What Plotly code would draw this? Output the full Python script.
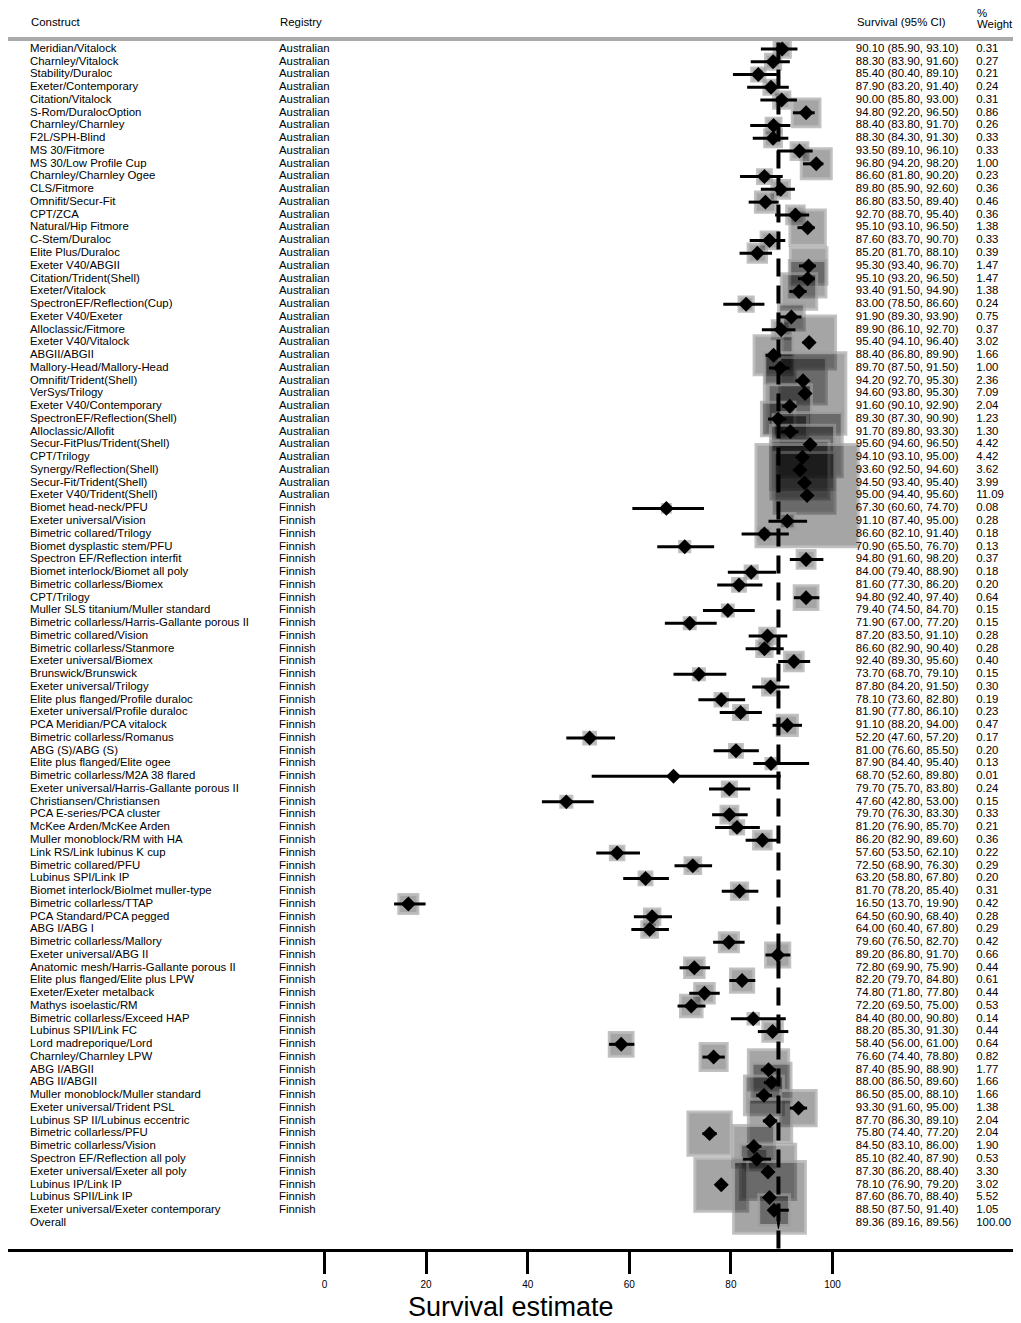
import numpy as np
import plotly.graph_objects as go

constructs = [
    "Meridian/Vitalock", "Charnley/Vitalock", "Stability/Duraloc", "Exeter/Contemporary",
    "Citation/Vitalock", "S-Rom/DuralocOption", "Charnley/Charnley", "F2L/SPH-Blind",
    "MS 30/Fitmore", "MS 30/Low Profile Cup", "Charnley/Charnley Ogee", "CLS/Fitmore",
    "Omnifit/Secur-Fit", "CPT/ZCA", "Natural/Hip Fitmore", "C-Stem/Duraloc",
    "Elite Plus/Duraloc", "Exeter V40/ABGII", "Citation/Trident(Shell)", "Exeter/Vitalock",
    "SpectronEF/Reflection(Cup)", "Exeter V40/Exeter", "Alloclassic/Fitmore", "Exeter V40/Vitalock",
    "ABGII/ABGII", "Mallory-Head/Mallory-Head", "Omnifit/Trident(Shell)", "VerSys/Trilogy",
    "Exeter V40/Contemporary", "SpectronEF/Reflection(Shell)", "Alloclassic/Allofit",
    "Secur-FitPlus/Trident(Shell)", "CPT/Trilogy", "Synergy/Reflection(Shell)",
    "Secur-Fit/Trident(Shell)", "Exeter V40/Trident(Shell)",
    "Biomet head-neck/PFU", "Exeter universal/Vision", "Bimetric collared/Trilogy",
    "Biomet dysplastic stem/PFU", "Spectron EF/Reflection interfit", "Biomet interlock/Biomet all poly",
    "Bimetric collarless/Biomex", "CPT/Trilogy", "Muller SLS titanium/Muller standard",
    "Bimetric collarless/Harris-Gallante porous II", "Bimetric collared/Vision",
    "Bimetric collarless/Stanmore", "Exeter universal/Biomex", "Brunswick/Brunswick",
    "Exeter universal/Trilogy", "Elite plus flanged/Profile duraloc", "Exeter universal/Profile duraloc",
    "PCA Meridian/PCA vitalock", "Bimetric collarless/Romanus", "ABG (S)/ABG (S)",
    "Elite plus flanged/Elite ogee", "Bimetric collarless/M2A 38 flared",
    "Exeter universal/Harris-Gallante porous II", "Christiansen/Christiansen",
    "PCA E-series/PCA cluster", "McKee Arden/McKee Arden", "Muller monoblock/RM with HA",
    "Link RS/Link lubinus K cup", "Bimetric collared/PFU", "Lubinus SPI/Link IP",
    "Biomet interlock/Biolmet muller-type", "Bimetric collarless/TTAP", "PCA Standard/PCA pegged",
    "ABG I/ABG I", "Bimetric collarless/Mallory", "Exeter universal/ABG II",
    "Anatomic mesh/Harris-Gallante porous II", "Elite plus flanged/Elite plus LPW",
    "Exeter/Exeter metalback", "Mathys isoelastic/RM", "Bimetric collarless/Exceed HAP",
    "Lubinus SPII/Link FC", "Lord madreporique/Lord", "Charnley/Charnley LPW", "ABG I/ABGII",
    "ABG II/ABGII", "Muller monoblock/Muller standard", "Exeter universal/Trident PSL",
    "Lubinus SP II/Lubinus eccentric", "Bimetric collarless/PFU", "Bimetric collarless/Vision",
    "Spectron EF/Reflection all poly", "Exeter universal/Exeter all poly", "Lubinus IP/Link IP",
    "Lubinus SPII/Link IP", "Exeter universal/Exeter contemporary",
]
registries = ["Australian"] * 36 + ["Finnish"] * 56

survival = [
    90.10, 88.30, 85.40, 87.90, 90.00, 94.80, 88.40, 88.30, 93.50, 96.80, 86.60, 89.80,
    86.80, 92.70, 95.10, 87.60, 85.20, 95.30, 95.10, 93.40, 83.00, 91.90, 89.90, 95.40,
    88.40, 89.70, 94.20, 94.60, 91.60, 89.30, 91.70, 95.60, 94.10, 93.60, 94.50, 95.00,
    67.30, 91.10, 86.60, 70.90, 94.80, 84.00, 81.60, 94.80, 79.40, 71.90, 87.20, 86.60,
    92.40, 73.70, 87.80, 78.10, 81.90, 91.10, 52.20, 81.00, 87.90, 68.70, 79.70, 47.60,
    79.70, 81.20, 86.20, 57.60, 72.50, 63.20, 81.70, 16.50, 64.50, 64.00, 79.60, 89.20,
    72.80, 82.20, 74.80, 72.20, 84.40, 88.20, 58.40, 76.60, 87.40, 88.00, 86.50, 93.30,
    87.70, 75.80, 84.50, 85.10, 87.30, 78.10, 87.60, 88.50,
]
lower = [
    85.90, 83.90, 80.40, 83.20, 85.80, 92.20, 83.80, 84.30, 89.10, 94.20, 81.80, 85.90,
    83.50, 88.70, 93.10, 83.70, 81.70, 93.40, 93.20, 91.50, 78.50, 89.30, 86.10, 94.10,
    86.80, 87.50, 92.70, 93.80, 90.10, 87.30, 89.80, 94.60, 93.10, 92.50, 93.40, 94.40,
    60.60, 87.40, 82.10, 65.50, 91.60, 79.40, 77.30, 92.40, 74.50, 67.00, 83.50, 82.90,
    89.30, 68.70, 84.20, 73.60, 77.80, 88.20, 47.60, 76.60, 84.40, 52.60, 75.70, 42.80,
    76.30, 76.90, 82.90, 53.50, 68.90, 58.80, 78.20, 13.70, 60.90, 60.40, 76.50, 86.80,
    69.90, 79.70, 71.80, 69.50, 80.00, 85.30, 56.00, 74.40, 85.90, 86.50, 85.00, 91.60,
    86.30, 74.40, 83.10, 82.40, 86.20, 76.90, 86.70, 87.50,
]
upper = [
    93.10, 91.60, 89.10, 91.40, 93.00, 96.50, 91.70, 91.30, 96.10, 98.20, 90.20, 92.60,
    89.40, 95.40, 96.50, 90.70, 88.10, 96.70, 96.50, 94.90, 86.60, 93.90, 92.70, 96.40,
    89.90, 91.50, 95.30, 95.30, 92.90, 90.90, 93.30, 96.50, 95.00, 94.60, 95.40, 95.60,
    74.70, 95.00, 91.40, 76.70, 98.20, 88.90, 86.20, 97.40, 84.70, 77.20, 91.10, 90.40,
    95.60, 79.10, 91.50, 82.80, 86.10, 94.00, 57.20, 85.50, 95.40, 89.80, 83.80, 53.00,
    83.30, 85.70, 89.60, 62.10, 76.30, 67.80, 85.40, 19.90, 68.40, 67.80, 82.70, 91.70,
    75.90, 84.80, 77.80, 75.00, 90.80, 91.30, 61.00, 78.80, 88.90, 89.60, 88.10, 95.00,
    89.10, 77.20, 86.00, 87.90, 88.40, 79.20, 88.40, 91.40,
]
weights = [
    0.31, 0.27, 0.21, 0.24, 0.31, 0.86, 0.26, 0.33, 0.33, 1.00, 0.23, 0.36,
    0.46, 0.36, 1.38, 0.33, 0.39, 1.47, 1.47, 1.38, 0.24, 0.75, 0.37, 3.02,
    1.66, 1.00, 2.36, 7.09, 2.04, 1.23, 1.30, 4.42, 4.42, 3.62, 3.99, 11.09,
    0.08, 0.28, 0.18, 0.13, 0.37, 0.18, 0.20, 0.64, 0.15, 0.15, 0.28, 0.28,
    0.40, 0.15, 0.30, 0.19, 0.23, 0.47, 0.17, 0.20, 0.13, 0.01, 0.24, 0.15,
    0.33, 0.21, 0.36, 0.22, 0.29, 0.20, 0.31, 0.42, 0.28, 0.29, 0.42, 0.66,
    0.44, 0.61, 0.44, 0.53, 0.14, 0.44, 0.64, 0.82, 1.77, 1.66, 1.66, 1.38,
    2.04, 2.04, 1.90, 0.53, 3.30, 3.02, 5.52, 1.05,
]
overall_label = "Overall"
overall_est, overall_lci, overall_uci, overall_w = 89.36, 89.16, 89.56, 100.00

x_ticks = [0, 20, 40, 60, 80, 100]
x_title = "Survival estimate"
headers = {"construct": "Construct", "registry": "Registry", "ci": "Survival (95% CI)",
           "w1": "%", "w2": "Weight"}

# ---------------- layout constants ----------------
# the page body adds an 8px margin; keep the figure inside the visible page
W, H = 1005, 1315
FONT = "Liberation Sans, Arial, Helvetica, sans-serif"
FS = 11.4
PLOT_H = 1241
X_RANGE = [-62.30, 135.53]
Y_RANGE = [94.04, -3.213]
COL_CONSTRUCT, COL_REGISTRY, COL_CI, COL_W = -57.97, -8.96, 104.6, 128.3

n = len(constructs)
rows = list(range(n))
overall_row = n

fig = go.Figure()

# weight boxes
box_sizes = [31 * np.sqrt(w) - 1 for w in weights]
fig.add_trace(go.Scatter(
    x=survival, y=rows, mode="markers", hoverinfo="skip",
    marker=dict(symbol="square", size=box_sizes, color="rgba(0,0,0,0.5)",
                line=dict(color="rgba(160,160,160,0.9)", width=3)),
))

# overall reference line
fig.add_trace(go.Scatter(
    x=[overall_est, overall_est], y=[-0.5, Y_RANGE[0]], mode="lines", hoverinfo="skip",
    line=dict(color="black", width=4, dash="18px,9px"),
))

# CI lines
cx, cy = [], []
for r, lo, hi in zip(rows, lower, upper):
    cx += [lo, hi, None]
    cy += [r, r, None]
fig.add_trace(go.Scatter(x=cx, y=cy, mode="lines", hoverinfo="skip",
                         line=dict(color="black", width=3)))

# point estimates
fig.add_trace(go.Scatter(x=survival, y=rows, mode="markers", hoverinfo="skip",
                         marker=dict(symbol="diamond", size=11.5, color="black")))

# overall diamond
fig.add_trace(go.Scatter(
    x=[overall_lci, overall_est, overall_uci, overall_est, overall_lci],
    y=[overall_row, overall_row - 0.45, overall_row, overall_row + 0.45, overall_row],
    mode="lines", fill="toself", fillcolor="black", line=dict(color="black", width=1),
    hoverinfo="skip"))

# text columns
all_rows = rows + [overall_row]
txt_font = dict(family=FONT, size=FS, color="black")
fig.add_trace(go.Scatter(x=[COL_CONSTRUCT] * (n + 1), y=all_rows, mode="text",
                         text=constructs + [overall_label], textposition="middle right",
                         textfont=txt_font, hoverinfo="skip", cliponaxis=False))
fig.add_trace(go.Scatter(x=[COL_REGISTRY] * n, y=rows, mode="text",
                         text=registries, textposition="middle right",
                         textfont=txt_font, hoverinfo="skip", cliponaxis=False))
ci_text = [f"{e:.2f} ({l:.2f}, {u:.2f})" for e, l, u in zip(survival, lower, upper)]
ci_text.append(f"{overall_est:.2f} ({overall_lci:.2f}, {overall_uci:.2f})")
fig.add_trace(go.Scatter(x=[COL_CI] * (n + 1), y=all_rows, mode="text",
                         text=ci_text, textposition="middle right",
                         textfont=txt_font, hoverinfo="skip", cliponaxis=False))
w_text = [f"{w:.2f}" for w in weights] + [f"{overall_w:.2f}"]
fig.add_trace(go.Scatter(x=[COL_W] * (n + 1), y=all_rows, mode="text",
                         text=w_text, textposition="middle right",
                         textfont=txt_font, hoverinfo="skip", cliponaxis=False))

# headers
ann = []
for key, xx, yy in [("construct", COL_CONSTRUCT, -2.12), ("registry", COL_REGISTRY, -2.12),
                    ("ci", COL_CI, -2.12), ("w1", COL_W, -2.82), ("w2", COL_W, -1.98)]:
    ann.append(dict(x=xx, y=yy, xref="x", yref="y", text=headers[key], showarrow=False,
                    xanchor="left", yanchor="middle", font=txt_font, borderpad=0))
ann.append(dict(x=0.5, y=-58 / PLOT_H, xref="paper", yref="paper", text=x_title,
                showarrow=False, xanchor="center", yanchor="middle",
                font=dict(family=FONT, size=27, color="black")))

fig.add_shape(type="line", xref="paper", x0=0, x1=1, yref="y", y0=-0.784, y1=-0.784,
              line=dict(color="#aaaaaa", width=4))

fig.update_layout(
    width=W, height=H, margin=dict(l=0, r=0, t=0, b=H - PLOT_H),
    paper_bgcolor="white", plot_bgcolor="white", showlegend=False,
    annotations=ann,
    xaxis=dict(range=X_RANGE, tickvals=x_ticks, ticktext=[str(t) for t in x_ticks],
               ticks="outside", ticklen=22, tickwidth=3, tickcolor="black",
               showline=True, linewidth=3, linecolor="black", showgrid=False,
               zeroline=False, tickfont=dict(family=FONT, size=10, color="black"),
               ticklabelstandoff=2, fixedrange=True),
    yaxis=dict(range=Y_RANGE, visible=False, showgrid=False, zeroline=False, fixedrange=True),
)

fig.write_html("out.html")
